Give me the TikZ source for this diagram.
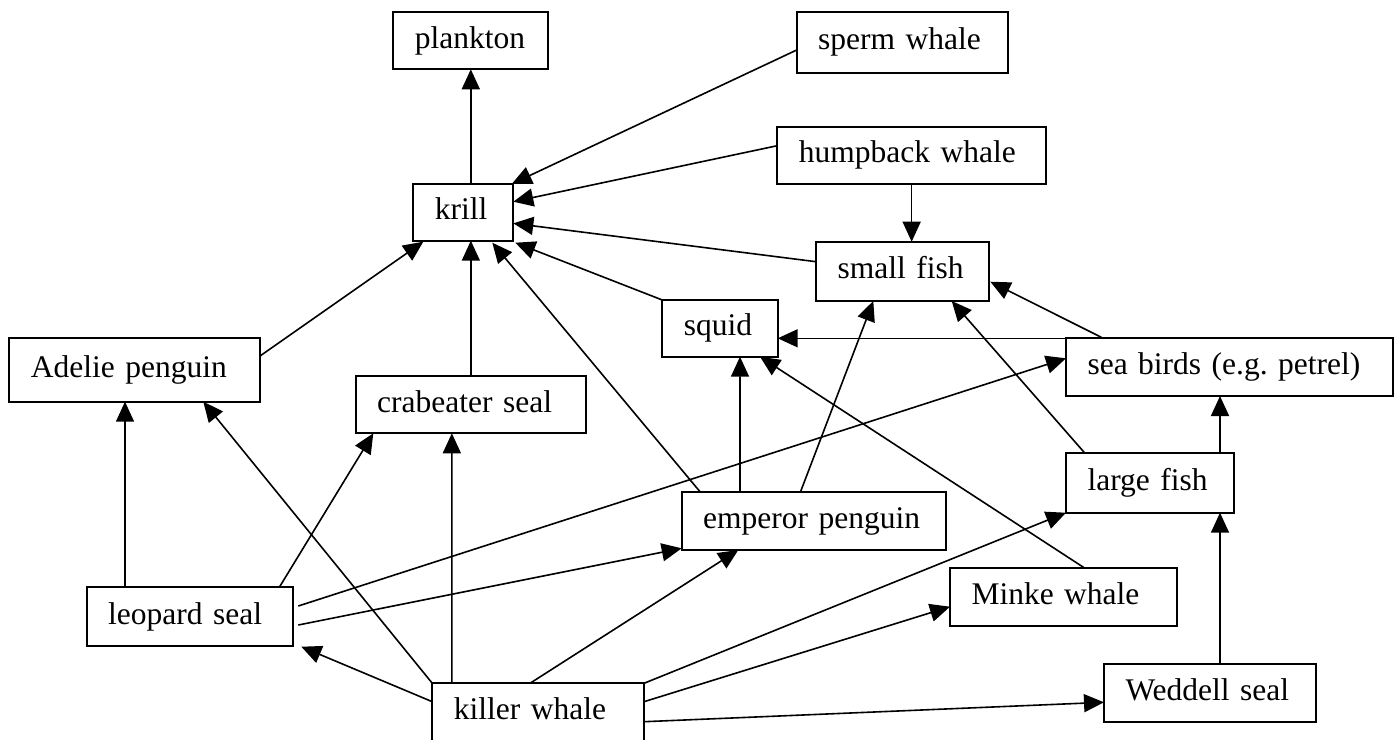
\documentclass[tikz,border=0pt]{standalone}
\usepackage{fontspec}
\setmainfont{Liberation Serif}
\usetikzlibrary{arrows.meta}
\frenchspacing
\tikzset{
  box/.style={draw=black, line width=1.8pt, fill=white, anchor=north west, outer sep=0pt,
    inner xsep=21.5pt, inner ysep=0pt, align=left,
    font=\fontsize{31.5}{38}\selectfont},
  arr/.style={line width=1.6pt, -{Triangle[length=20pt,width=18pt]}}
}
\newcommand\fwbox[8]{% name, x, y, W, H, textwidth, text
  \node[box, minimum width=#4pt, minimum height=#5pt, text width=#6pt] (#1) at (#2,#3) {\strut\mbox{#7}};}
\begin{document}
\begin{tikzpicture}[x=1pt,y=-1pt]
\useasboundingbox (0,0) rectangle (1400,739);
\fill[white] (0,0) rectangle (1400,739);
\fwbox{plankton}{393.3}{11.7}{155}{57.6}{112}{plankton}{}
\fwbox{sperm}{796.7}{11.7}{211.6}{61}{168.6}{sperm whale}{}
\fwbox{humpback}{777.3}{126.7}{268.7}{57.3}{225.7}{humpback whale}{}
\fwbox{krill}{413.3}{184}{100}{56.7}{57}{krill}{}
\fwbox{smallfish}{816}{241.7}{173.3}{59.3}{130.3}{small fish}{}
\fwbox{squid}{662.3}{300}{115.4}{56.7}{72.4}{squid}{}
\fwbox{Adelie}{9.3}{338.3}{250.7}{63.4}{207.7}{Adelie penguin}{}
\fwbox{seabirds}{1066}{338.3}{326.7}{57.7}{283.7}{sea birds (e.g. petrel)}{}
\fwbox{crabeater}{355.7}{376}{230.3}{57.3}{187.3}{crabeater seal}{}
\fwbox{largefish}{1066}{453.3}{168}{59.4}{125}{large fish}{}
\fwbox{emperor}{681.7}{491.7}{264.3}{58.3}{221.3}{emperor penguin}{}
\fwbox{leopard}{86.7}{587.3}{206.6}{58.7}{163.6}{leopard seal}{}
\fwbox{Minke}{950}{568.3}{227.3}{57.7}{184.3}{Minke whale}{}
\fwbox{killer}{432.3}{683.3}{211.7}{57.7}{168.7}{killer whale}{}
\fwbox{Weddell}{1104}{664}{212}{57.7}{169}{Weddell seal}{}

\draw[arr] (krill.north -| plankton.south) -- (plankton.south);
\draw[arr] ([yshift=-7.8pt]sperm.west) -- ([xshift=-1.6pt]krill.north east);
\draw[arr] ([yshift=9.65pt]humpback.west) -- ([yshift=10.65pt]krill.east);
\draw[arr] (humpback.south) -- (humpback.south |- smallfish.north);
\draw[arr] ([yshift=9.65pt]smallfish.west) -- ([yshift=-11pt]krill.east);
\draw[arr] (squid.north west) -- ([xshift=2pt,yshift=-2pt]krill.south east);
\draw[arr] ([xshift=18.3pt]emperor.north west) -- ([xshift=-21pt,yshift=-2pt]krill.south east);
\draw[arr] ([yshift=14pt]Adelie.east) -- ([xshift=10pt,yshift=-1pt]krill.south west);
\draw[arr] (crabeater.north) -- (crabeater.north |- krill.south);
\draw[arr] ([xshift=37.3pt]seabirds.north west) -- ([xshift=1pt,yshift=-10.35pt]smallfish.east);
\draw[arr] (seabirds.north west) -- (seabirds.north west -| squid.east);
\draw[arr] ([xshift=19pt]largefish.north west) -- ([xshift=-37.6pt]smallfish.south east);
\draw[arr] ([xshift=-14pt]largefish.north east) -- ([xshift=-9.35pt]seabirds.south);
\draw[arr] ([xshift=-13.3pt]emperor.north) -- ([xshift=-29.35pt]smallfish.south);
\draw[arr] ([xshift=-73.85pt]emperor.north) -- ([xshift=20pt]squid.south);
\draw[arr] ([xshift=21.35pt]Minke.north) -- ([xshift=-17.7pt]squid.south east);
\draw[arr] ([xshift=10pt]Weddell.north) -- ([xshift=-14pt]largefish.south east);
\draw[arr] ([xshift=38.3pt]leopard.north west) -- ([xshift=-9.65pt]Adelie.south);
\draw[arr] (killer.north west) -- ([xshift=-56.7pt]Adelie.south east);
\draw[arr] ([xshift=-14pt]leopard.north east) -- ([xshift=17.6pt]crabeater.south west);
\draw[arr] ([xshift=19.55pt]killer.north west) -- ([xshift=96.15pt]crabeater.south west);
\draw[arr] ([xshift=5pt,yshift=10.65pt]leopard.east) -- ([yshift=8.85pt]seabirds.west);
\draw[arr] ([xshift=5pt,yshift=-8.35pt]leopard.east) -- ([yshift=1.7pt]emperor.south west);
\draw[arr] ([yshift=-18.4pt]killer.north west) -- ([xshift=8pt,yshift=-0.7pt]leopard.south east);
\draw[arr] ([xshift=97.7pt]killer.north west) -- ([xshift=56.6pt]emperor.south west);
\draw[arr] (killer.north east) -- (largefish.south west);
\draw[arr] ([yshift=-18.4pt]killer.north east) -- ([yshift=-9.55pt]Minke.west);
\draw[arr] ([yshift=-38.4pt]killer.north east) -- ([yshift=-9.45pt]Weddell.west);
\end{tikzpicture}
\end{document}
